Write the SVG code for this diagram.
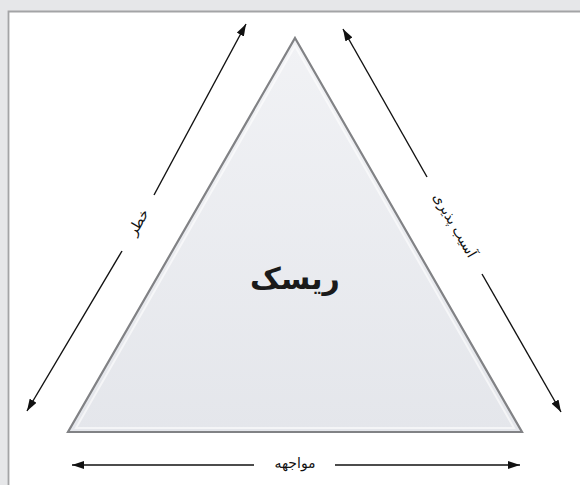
<svg xmlns="http://www.w3.org/2000/svg" width="580" height="485" viewBox="0 0 580 485">
<style>
.lbl{font-family:"DejaVu Sans","Noto Sans",sans-serif;font-size:14px;fill:#111;text-anchor:middle;dominant-baseline:central}
.ttl{font-family:"DejaVu Sans","Noto Sans",sans-serif;font-size:30px;font-weight:bold;fill:#1a1a1a;text-anchor:middle;dominant-baseline:central}
.ln{stroke:#111;stroke-width:1.4;fill:none}
</style>
<defs>
<marker id="ah" viewBox="0 0 12 8" refX="12" refY="4" markerWidth="12" markerHeight="8" markerUnits="userSpaceOnUse" orient="auto">
<path d="M0,0 L12,4 L0,8 Z" fill="#111"/>
</marker>
<linearGradient id="tg" x1="0" y1="0" x2="0" y2="1">
<stop offset="0" stop-color="#f1f2f5"/>
<stop offset="1" stop-color="#e4e6eb"/>
</linearGradient>
</defs>
<rect x="0" y="0" width="580" height="485" fill="#e6e7e9"/>
<rect x="8" y="11" width="572" height="474" fill="#ffffff"/>
<path d="M8.5,485 V11.5 H580" stroke="#a3a4a6" stroke-width="1.8" fill="none"/>
<g id="risk">
<polygon points="295,38 522,432 68,432" fill="url(#tg)" stroke="#818285" stroke-width="2.2" stroke-linejoin="miter"/>
<polygon points="295,46 514,428 76,428" fill="none" stroke="#ffffff" stroke-opacity="0.6" stroke-width="2"/>
<text class="ttl" x="295" y="278">ریسک</text>
</g>
<g id="connectors">
<line class="ln" x1="154" y1="195" x2="246" y2="24" marker-end="url(#ah)"/>
<line class="ln" x1="122" y1="251" x2="27" y2="411" marker-end="url(#ah)"/>
<line class="ln" x1="427" y1="177" x2="343" y2="29" marker-end="url(#ah)"/>
<line class="ln" x1="482" y1="274" x2="561" y2="412" marker-end="url(#ah)"/>
<line class="ln" x1="254" y1="465" x2="72" y2="465" marker-end="url(#ah)"/>
<line class="ln" x1="335" y1="465" x2="520" y2="465" marker-end="url(#ah)"/>
</g>
<g id="hazard">
<text class="lbl" transform="translate(138,222) rotate(-60)">خطر</text>
</g>
<g id="vulnerability">
<text class="lbl" transform="translate(455,225) rotate(60)">آسیب پذیری</text>
</g>
<g id="exposure">
<text class="lbl" x="295" y="463">مواجهه</text>
</g>
</svg>
